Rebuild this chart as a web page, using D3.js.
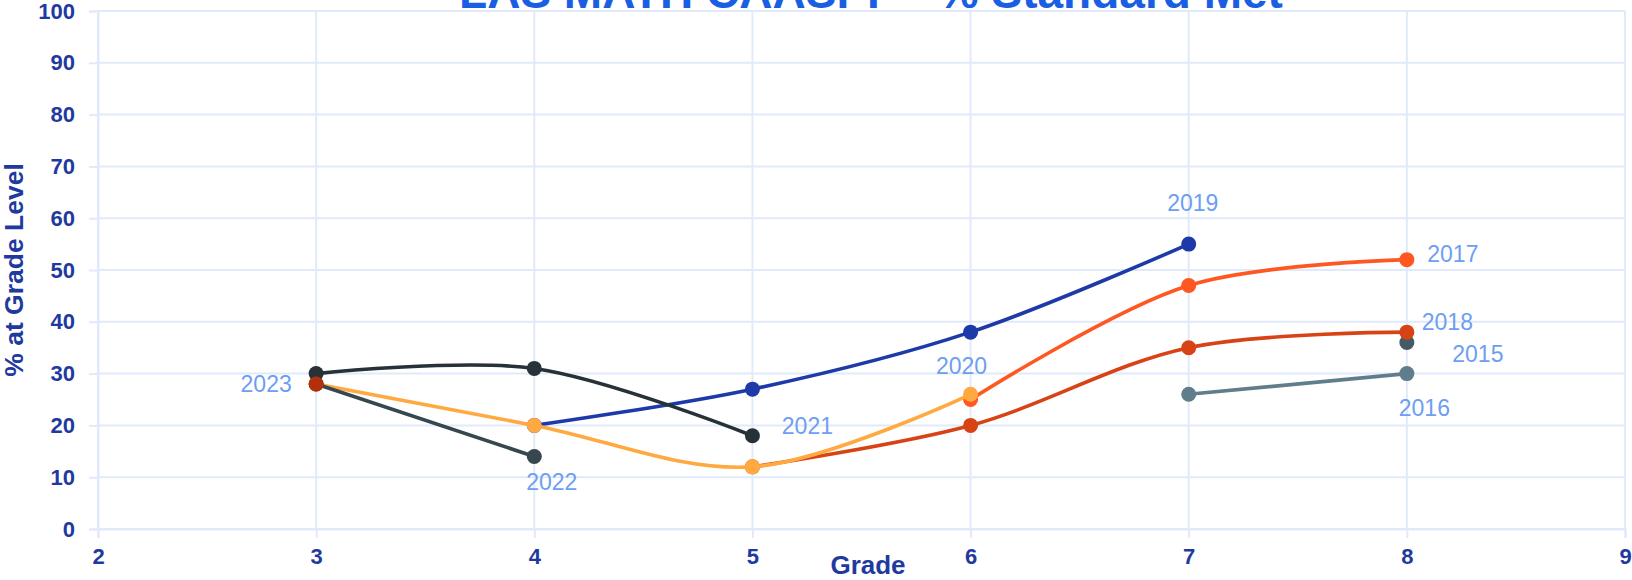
<!DOCTYPE html>
<html>
<head>
<meta charset="utf-8">
<script src="https://cdn.jsdelivr.net/npm/d3@7"></script>
<style>
  body { margin: 0; background: #fff; }
  svg { display: block; font-family: "Liberation Sans", Arial, sans-serif; }
</style>
</head>
<body>
<svg width="1632" height="580"></svg>
<script>
// cohort data, one array per year label
var years  = ["2015", "2016", "2017", "2018", "2019", "2020", "2021", "2022", "2023"];
var grades = [
  [8],
  [7, 8],
  [6, 7, 8],
  [5, 6, 7, 8],
  [4, 5, 6, 7],
  [3, 4, 5, 6],
  [3, 4, 5],
  [3, 4],
  [3]
];
var values = [
  [36],
  [26, 30],
  [25, 47, 52],
  [12, 20, 35, 38],
  [20, 27, 38, 55],
  [28, 20, 12, 26],
  [30, 31, 18],
  [28, 14],
  [28]
];
var xTicks = [2, 3, 4, 5, 6, 7, 8, 9];
var yTicks = [0, 10, 20, 30, 40, 50, 60, 70, 80, 90, 100];

// styling
var colors = ["#455a64", "#607d8b", "#ff5722", "#d84315", "#1e3aa8", "#ffa940", "#263238", "#37474f", "#b3300a"];
// label center offset from the last point, px
var labelOffsets = [[71, 11.5], [17.5, 34.5], [46, -5.5], [40.5, -10.5], [4, -41.5], [-9, -29], [55, -10], [17.5, 25.5], [-50, 0]];

var svg = d3.select("svg"),
    margin = {top: 11, right: 7, bottom: 51, left: 98},
    width  = +svg.attr("width") - margin.left - margin.right,
    height = +svg.attr("height") - margin.top - margin.bottom;

var gridColor = "#e1eafa",
    tickColor = "#1f3a9f";

var x = d3.scaleLinear().domain([2, 9]).range([0, width]),
    y = d3.scaleLinear().domain([0, 100]).range([height, 0]);

var g = svg.append("g")
           .attr("transform", "translate(" + margin.left + "," + margin.top + ")");

// grid
g.append("g").selectAll("line")
  .data(yTicks)
  .enter().append("line")
  .attr("x1", 0).attr("x2", width)
  .attr("y1", function(d) { return y(d); })
  .attr("y2", function(d) { return y(d); })
  .attr("stroke", gridColor)
  .attr("stroke-width", 2);

g.append("g").selectAll("line")
  .data(xTicks)
  .enter().append("line")
  .attr("y1", 0).attr("y2", height)
  .attr("x1", function(d) { return x(d); })
  .attr("x2", function(d) { return x(d); })
  .attr("stroke", gridColor)
  .attr("stroke-width", 2);

var xAxis = d3.axisBottom(x).tickValues(xTicks).tickSize(9).tickPadding(10).tickFormat(d3.format("d")),
    yAxis = d3.axisLeft(y).tickValues(yTicks).tickSize(9).tickPadding(14);

var gx = g.append("g")
  .attr("transform", "translate(0," + height + ")")
  .call(xAxis);

var gy = g.append("g").call(yAxis);

[gx, gy].forEach(function(a) {
  a.select(".domain").attr("stroke", gridColor).attr("stroke-width", 2);
  a.selectAll(".tick line").attr("stroke", gridColor).attr("stroke-width", 2);
  a.selectAll(".tick text")
    .attr("fill", tickColor)
    .attr("font-size", 22)
    .attr("font-weight", "bold")
    .attr("font-family", "Liberation Sans, Arial, sans-serif");
});

var line = d3.line()
  .x(function(d) { return x(d[0]); })
  .y(function(d) { return y(d[1]); })
  .curve(d3.curveCatmullRom);

years.forEach(function(yr, i) {
  var pts = grades[i].map(function(gr, j) { return [gr, values[i][j]]; });

  if (pts.length > 1) {
    g.append("path")
      .datum(pts)
      .attr("d", line)
      .attr("fill", "none")
      .attr("stroke", colors[i])
      .attr("stroke-width", 3.6)
      .attr("stroke-linejoin", "round")
      .attr("stroke-linecap", "round");
  }

  g.append("g").selectAll("circle")
    .data(pts)
    .enter().append("circle")
    .attr("cx", function(d) { return x(d[0]); })
    .attr("cy", function(d) { return y(d[1]); })
    .attr("r", 7.5)
    .attr("fill", colors[i]);

  var last = pts[pts.length - 1];
  g.append("text")
    .attr("x", x(last[0]) + labelOffsets[i][0])
    .attr("y", y(last[1]) + labelOffsets[i][1] + 8.2)
    .attr("text-anchor", "middle")
    .attr("font-size", 23)
    .attr("fill", "#6d9ef2")
    .text(yr);
});

// titles
svg.append("text")
  .attr("x", 871)
  .attr("y", 7.5)
  .attr("text-anchor", "middle")
  .attr("font-size", 46)
  .attr("font-weight", "bold")
  .attr("fill", "#1a5fe3")
  .text("LAS MATH CAASPP - % Standard Met");

svg.append("text")
  .attr("x", 868)
  .attr("y", 574.3)
  .attr("text-anchor", "middle")
  .attr("font-size", 26)
  .attr("font-weight", "bold")
  .attr("fill", tickColor)
  .text("Grade");

svg.append("text")
  .attr("transform", "translate(23,270) rotate(-90)")
  .attr("text-anchor", "middle")
  .attr("font-size", 26.5)
  .attr("font-weight", "bold")
  .attr("fill", tickColor)
  .text("% at Grade Level");
</script>
</body>
</html>
